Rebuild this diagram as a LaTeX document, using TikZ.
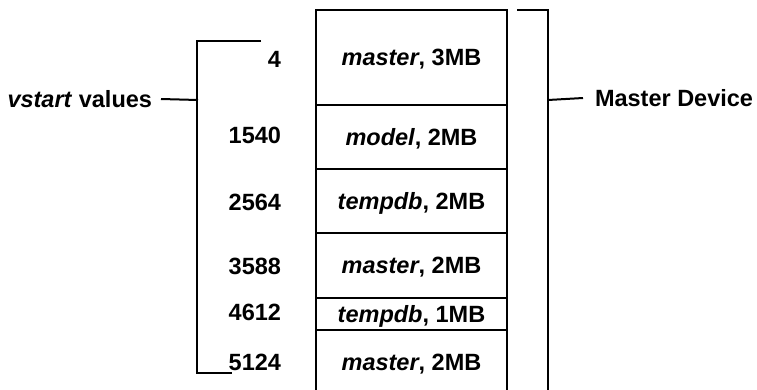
\documentclass[tikz,border=0pt]{standalone}
\usepackage{fontspec}
\setmainfont{Liberation Sans}
\begin{document}
\begin{tikzpicture}[x=1pt, y=-1pt, line width=2pt, line join=miter, font=\fontsize{23.5}{27}\selectfont\bfseries]
	\tikzset{cell/.style={draw, minimum width=191pt, inner sep=0pt, outer sep=0pt, text depth=0pt, anchor=north west},
		addr/.style={anchor=east, inner sep=0pt}}
	\useasboundingbox (0,0) rectangle (757,389);
	% segments of the master device
	\node[cell, minimum height=95pt] (c1) at (316,10) {\textit{master}, 3MB};
	\node[cell, minimum height=64pt] (c2) at (c1.south west) {\textit{model}, 2MB};
	\node[cell, minimum height=64pt] (c3) at (c2.south west) {\textit{tempdb}, 2MB};
	\node[cell, minimum height=65pt] (c4) at (c3.south west) {\textit{master}, 2MB};
	\node[cell, minimum height=32pt] (c5) at (c4.south west) {\textit{tempdb}, 1MB};
	\node[cell, minimum height=64pt] (c6) at (c5.south west) {\textit{master}, 2MB};
	% vstart values
	\foreach \v/\y [count=\i] in {4/59, 1540/135, 2564/202, 3588/266, 4612/312, 5124/362}
		\node[addr] (a\i) at (282,\y) {\v};
	\coordinate (ltop) at (261,41);
	\coordinate (lbot) at (232,373);
	\coordinate (lmid) at (198,100);
	\draw (ltop) -- (197,41) -- (197,373) -- (lbot);
	\node[addr] (vs) at (153,99) {\textit{vstart} values};
	\draw ([xshift=8pt]vs.east) -- (lmid);
	% master device bracket
	\coordinate (rtop) at (517,10);
	\coordinate (rmid) at (548,100);
	\draw (rtop) -- (548,10) -- (548,395);
	\node[anchor=west, inner sep=0pt] (md) at (594,98) {Master Device};
	\draw (rmid) -- ([xshift=-11pt]md.west);
\end{tikzpicture}
\end{document}
